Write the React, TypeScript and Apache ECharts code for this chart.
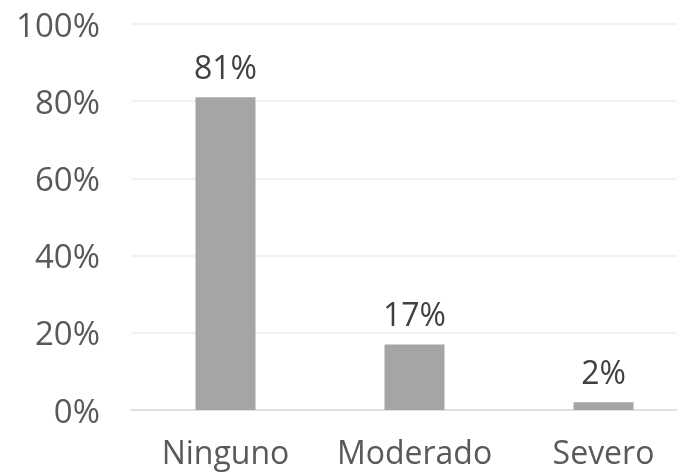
import React, { useEffect, useRef } from "react";
import * as echarts from "echarts";

const categories = ["Ninguno", "Moderado", "Severo"];
const values = [81, 17, 2];
const yTicks = [0, 20, 40, 60, 80, 100];

export default function App() {
  const ref = useRef<HTMLDivElement>(null);
  useEffect(() => {
    if (!ref.current) return;
    const chart = echarts.init(ref.current, null, { renderer: "svg" });
    const font = "'Open Sans', 'Noto Sans', sans-serif";
    chart.setOption({
      animation: false,
      grid: { left: 131, right: 0, top: 24, bottom: 62, containLabel: false },
      xAxis: {
        type: "category",
        data: categories,
        axisLine: { show: true, lineStyle: { color: "#d9d9d9", width: 1.5 } },
        axisTick: { show: false },
        axisLabel: {
          color: "#595959",
          fontSize: 32,
          fontFamily: font,
          margin: 25,
          interval: 0,
          hideOverlap: false,
        },
      },
      yAxis: {
        type: "value",
        min: yTicks[0],
        max: yTicks[yTicks.length - 1],
        interval: 20,
        axisLine: { show: false },
        axisTick: { show: false },
        splitLine: { lineStyle: { color: "#eeeeee", width: 1.5 } },
        axisLabel: {
          color: "#595959",
          fontSize: 33,
          fontFamily: font,
          margin: 31,
          formatter: (v: number) => v + "%",
        },
      },
      series: [
        {
          type: "bar",
          data: values,
          barWidth: 60,
          itemStyle: { color: "#a5a5a5" },
          label: {
            show: true,
            position: "top",
            distance: 15,
            color: "#404040",
            fontSize: 32,
            fontFamily: font,
            formatter: (p: any) => p.value + "%",
          },
        },
      ],
    });
    return () => chart.dispose();
  }, []);
  return (
    <div
      ref={ref}
      style={{ position: "fixed", left: 0, top: 0, width: 698, height: 472 }}
    />
  );
}
